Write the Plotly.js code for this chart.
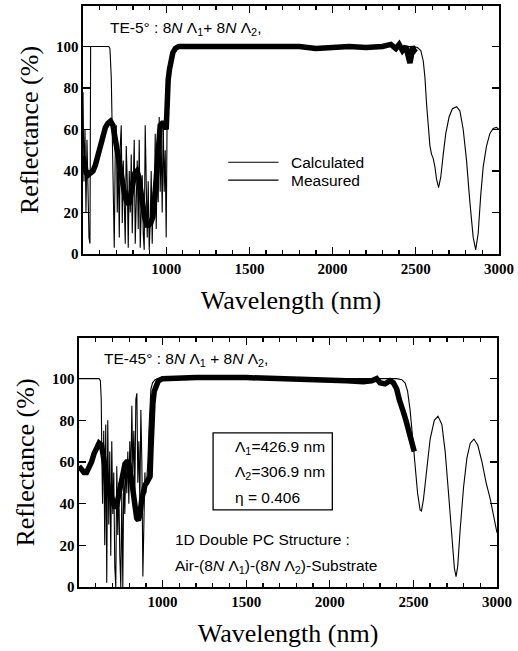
<!DOCTYPE html>
<html>
<head>
<meta charset="utf-8">
<script src="https://cdn.plot.ly/plotly-3.0.1.min.js"></script>
<style>
html,body{margin:0;padding:0;background:#fff;}
#chart{width:518px;height:651px;}
</style>
</head>
<body>
<div id="chart"></div>
<script>
// ---------- Panel (a): TE-5 deg ----------
const wlCalcA = [500,506,512,518,524,530,536,542,546,560,600,640,655,662,667,670,676,682,688,694,700,706,712,718,724,730,736,742,748,754,760,766,772,778,784,790,796,802,808,814,820,826,832,838,844,850,856,862,868,874,880,886,892,898,904,910,916,922,928,934,940,946,952,958,964,970,976,982,988,994,1000,1006,1012,1020,1030,1040,1050,1060,1080,1200,1500,2000,2400,2480,2510,2530,2545,2555,2565,2575,2585,2595,2605,2615,2625,2637,2650,2665,2680,2700,2720,2745,2765,2785,2805,2825,2845,2860,2875,2890,2905,2925,2945,2965,2985,3000];
const rCalcA  = [78,35,60,20,55,30,8,5,100,100,100,100,100,99,92,85,58,30,3,50,62,20,48,8,52,62,15,45,25,5,52,35,3,40,20,48,10,35,55,5,30,45,12,55,3,25,38,10,2,62,20,8,35,2,15,40,5,30,20,58,12,45,25,66,30,55,20,64,30,50,8,70,78,88,94,97,99,100,100,100,100,100,100,100,99.5,98,93,85,72,60,52,48,46,42,36,32,37,48,58,66,70,71,69,60,45,25,8,2,10,28,42,52,58,60.5,61,60];

const wlMeasA = [500,510,520,530,545,560,575,590,605,620,635,650,665,680,692,704,716,728,740,752,764,776,788,800,812,824,836,848,860,872,884,896,908,920,932,944,954,964,976,988,1000,1004,1012,1020,1030,1040,1055,1075,1200,1400,1600,1800,1900,2000,2100,2200,2300,2350,2380,2400,2420,2440,2455,2465,2472,2480,2490,2500];
const rMeasA  = [47,42,39,38,39,40,43,48,53,58,61,63,64,62,56,50,45,40,33,28,25,24,29,35,39,40,37,30,22,17,14,14,15,18,28,45,58,62,63,63,60,78,84,89,94,97,99,100,100,100,99.5,100,99,99.5,100,99.5,100,101,99,101,98,100,96,92,95,100,98,99];

// ---------- Panel (b): TE-45 deg ----------
const wlCalcB = [500,620,628,633,637,641,648,654,660,666,672,678,684,690,696,702,708,714,720,726,732,738,744,750,756,762,768,774,780,786,792,798,804,810,816,822,828,834,840,846,852,858,864,870,876,882,888,894,900,906,912,918,924,930,940,955,975,1200,2000,2400,2430,2450,2465,2480,2495,2510,2525,2540,2548,2560,2580,2600,2625,2647,2670,2690,2710,2730,2745,2755,2765,2780,2800,2820,2840,2862,2885,2910,2935,2960,2980,3000];
const rCalcB  = [100,100,99,90,60,40,75,20,78,2,80,30,65,15,70,35,55,10,0,58,25,50,15,0,45,0,55,35,60,45,65,40,70,50,87,55,75,45,90,93,50,70,40,85,60,5,30,55,45,52,60,75,88,95,98,99.5,100,100,100,100,99.5,98,94,85,72,58,45,37,36.5,42,58,71,80,82,78,65,45,22,9,5,10,28,48,62,69,71,68,60,50,42,34,26];

const wlMeasB = [500,515,530,545,560,575,590,605,620,635,645,655,665,675,685,695,705,715,725,735,745,755,765,775,785,795,805,815,825,835,845,855,865,875,885,895,905,915,925,930,935,942,950,960,975,1000,1200,1500,1800,2000,2100,2200,2250,2280,2300,2330,2360,2380,2400,2415,2425,2440,2455,2470,2485,2495,2505];
const rMeasB  = [58,56,55,55,57,60,64,67,69,68,64,58,52,47,44,43,40,38,39,43,48,52,56,59,60,60,57,50,42,36,33,32,35,42,47,49,50,51,53,65,80,88,94,97,99,100,100.5,100.5,100,99.5,99,98.5,99,100,98,97.5,99,98,95,90,88,84,80,76,72,68,65];

const yTicks = [0,20,40,60,80,100];
const xTicks = [1000,1500,2000,2500,3000];

const thin = {color:'#000', width:1.1};
const thick = {color:'#000', width:5.5};

const traces = [
  {x:wlCalcA, y:rCalcA, mode:'lines', line:thin, name:'Calculated', xaxis:'x', yaxis:'y', showlegend:false},
  {x:wlMeasA, y:rMeasA, mode:'lines', line:thick, name:'Measured', xaxis:'x', yaxis:'y', showlegend:false},
  {x:wlCalcB, y:rCalcB, mode:'lines', line:thin, name:'Calculated', xaxis:'x2', yaxis:'y2', showlegend:false},
  {x:wlMeasB, y:rMeasB, mode:'lines', line:thick, name:'Measured', xaxis:'x2', yaxis:'y2', showlegend:false}
];

const tickFont = {family:'Liberation Serif, Times New Roman, serif', size:15, color:'#000', weight:700};
const titleFont = {family:'Liberation Serif, Times New Roman, serif', size:26, color:'#000'};
const annFont = {family:'Liberation Sans, Arial, sans-serif', size:15.5, color:'#000'};

function xAx(domain, anchor){
  return {domain:domain, anchor:anchor, range:[500,3000], tickvals:xTicks, ticktext:xTicks.map(String),
    ticks:'inside', ticklen:7, tickwidth:1.3, tickcolor:'#000', showline:true, linecolor:'#000', linewidth:1.6,
    mirror:'allticks', showgrid:false, zeroline:false, tickfont:tickFont,
    minor:{tickvals:[600,700,800,900,1100,1200,1300,1400,1600,1700,1800,1900,2100,2200,2300,2400,2600,2700,2800,2900], ticks:'inside', ticklen:4, tickcolor:'#000', showgrid:false},
    title:{text:'Wavelength (nm)', font:titleFont, standoff:15}};
}
function yAx(domain, anchor){
  return {domain:domain, anchor:anchor, range:[0,119.5], tickvals:yTicks, ticktext:yTicks.map(String),
    ticks:'inside', ticklen:7, tickwidth:1.3, tickcolor:'#000', showline:true, linecolor:'#000', linewidth:1.6,
    mirror:'allticks', showgrid:false, zeroline:false, tickfont:tickFont,
    title:{text:'Reflectance (%)', font:titleFont, standoff:10}};
}

const layout = {
  width:518, height:651,
  margin:{l:0, r:0, t:0, b:0},
  paper_bgcolor:'#fff', plot_bgcolor:'#fff',
  showlegend:false,
  xaxis: xAx([0.1602,0.9633],'y'),
  yaxis: yAx([0.6098,0.9908],'x'),
  xaxis2: xAx([0.1525,0.9595],'y2'),
  yaxis2: yAx([0.0983,0.4808],'x2'),
  shapes:[
    {type:'line', xref:'x', yref:'y', x0:1373, x1:1675, y0:44.2, y1:44.2, line:{color:'#000', width:1.1}},
    {type:'line', xref:'x', yref:'y', x0:1373, x1:1675, y0:35.6, y1:35.6, line:{color:'#000', width:1.1}},
    {type:'rect', xref:'x2', yref:'y2', x0:1302, x1:2015, y0:37, y1:74, line:{color:'#000', width:1.3}, fillcolor:'rgba(0,0,0,0)'}
  ],
  annotations:[
    {xref:'x', yref:'y', x:650, y:108.7, xanchor:'left', yanchor:'middle', showarrow:false, font:annFont,
     text:'TE-5° : 8<i>N</i> Λ<sub>1</sub>+ 8<i>N</i> Λ<sub>2</sub>,'},
    {xref:'x', yref:'y', x:1741, y:44.2, xanchor:'left', yanchor:'middle', showarrow:false, font:annFont, text:'Calculated'},
    {xref:'x', yref:'y', x:1741, y:35.6, xanchor:'left', yanchor:'middle', showarrow:false, font:annFont, text:'Measured'},
    {xref:'x2', yref:'y2', x:638, y:109, xanchor:'left', yanchor:'middle', showarrow:false, font:annFont,
     text:'TE-45° : 8<i>N</i> Λ<sub>1</sub> + 8<i>N</i> Λ<sub>2</sub>,'},
    {xref:'x2', yref:'y2', x:1422, y:66.8, xanchor:'left', yanchor:'middle', showarrow:false, font:annFont, text:'Λ<sub>1</sub>=426.9 nm'},
    {xref:'x2', yref:'y2', x:1422, y:54.8, xanchor:'left', yanchor:'middle', showarrow:false, font:annFont, text:'Λ<sub>2</sub>=306.9 nm'},
    {xref:'x2', yref:'y2', x:1422, y:42.8, xanchor:'left', yanchor:'middle', showarrow:false, font:annFont, text:'η = 0.406'},
    {xref:'x2', yref:'y2', x:1063, y:22.6, xanchor:'left', yanchor:'middle', showarrow:false, font:annFont, text:'1D Double PC Structure :'},
    {xref:'x2', yref:'y2', x:1063, y:9.6, xanchor:'left', yanchor:'middle', showarrow:false, font:annFont,
     text:'Air-(8<i>N</i> Λ<sub>1</sub>)-(8<i>N</i> Λ<sub>2</sub>)-Substrate'}
  ]
};

Plotly.newPlot('chart', traces, layout, {staticPlot:true, displayModeBar:false});
</script>
</body>
</html>
